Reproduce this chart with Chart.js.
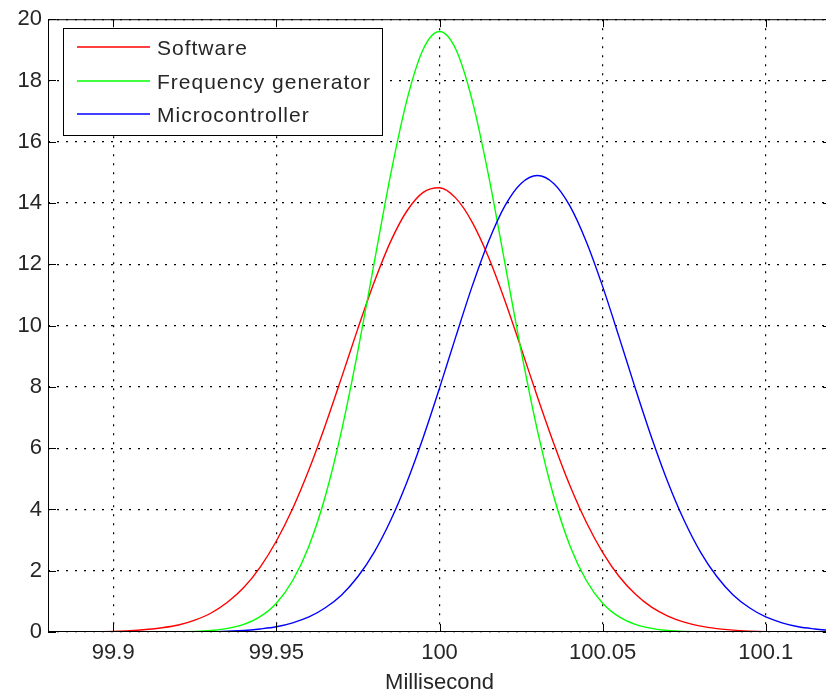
<!DOCTYPE html>
<html lang="en">
<head>
    <meta charset="UTF-8">
    <title>Millisecond distribution</title>
    <style>
        html, body {
            margin: 0;
            padding: 0;
            background: #ffffff;
            overflow: hidden;
        }
        #wrap {
            width: 832px;
            height: 696px;
        }
    </style>
</head>
<body>
    <div id="wrap">
        <canvas id="chart" width="832" height="696"></canvas>
    </div>

    <script src="https://cdn.jsdelivr.net/npm/chart.js"></script>
    <script>
        // x positions (ms)
        const xValues = [
            99.88, 99.885, 99.89, 99.895, 99.9, 99.905, 99.91, 99.915, 99.92, 99.925,
            99.93, 99.935, 99.94, 99.945, 99.95, 99.955, 99.96, 99.965, 99.97, 99.975,
            99.98, 99.985, 99.99, 99.995, 100, 100.005, 100.01, 100.015, 100.02, 100.025,
            100.03, 100.035, 100.04, 100.045, 100.05, 100.055, 100.06, 100.065, 100.07, 100.075,
            100.08, 100.085, 100.09, 100.095, 100.1, 100.105, 100.11, 100.115, 100.12
        ];

        const software = [
            0, 0, 0, 0.01, 0.02, 0.04, 0.08, 0.14, 0.23, 0.39,
            0.62, 0.97, 1.45, 2.11, 2.97, 4.03, 5.30, 6.75, 8.31, 9.91,
            11.42, 12.74, 13.74, 14.35, 14.5, 14.16, 13.38, 12.24, 10.83, 9.27,
            7.68, 6.16, 4.77, 3.58, 2.60, 1.82, 1.24, 0.81, 0.52, 0.32,
            0.19, 0.11, 0.06, 0.03, 0.01, 0, 0, 0, 0
        ];

        const freqGenerator = [
            0, 0, 0, 0, 0, 0, 0, 0, 0.01, 0.02,
            0.05, 0.12, 0.25, 0.50, 0.94, 1.68, 2.81, 4.43, 6.58, 9.18,
            12.06, 14.92, 17.36, 19.02, 19.6, 19.02, 17.36, 14.92, 12.06, 9.18,
            6.58, 4.43, 2.81, 1.68, 0.94, 0.50, 0.25, 0.12, 0.05, 0.02,
            0.01, 0, 0, 0, 0, 0, 0, 0, 0
        ];

        const microcontroller = [
            0, 0, 0, 0, 0, 0, 0, 0, 0, 0.01,
            0.01, 0.03, 0.05, 0.10, 0.17, 0.30, 0.49, 0.79, 1.21, 1.81,
            2.61, 3.64, 4.89, 6.35, 7.96, 9.64, 11.28, 12.74, 13.90, 14.64,
            14.9, 14.64, 13.90, 12.74, 11.28, 9.64, 7.96, 6.35, 4.89, 3.64,
            2.61, 1.81, 1.21, 0.79, 0.49, 0.30, 0.17, 0.10, 0.05
        ];

        const seriesLabels = ['Software', 'Frequency generator', 'Microcontroller'];
        const seriesColors = ['#ff0000', '#00ff00', '#0000ff'];
        const xTicks = [99.9, 99.95, 100, 100.05, 100.1];
        const yTicks = [0, 2, 4, 6, 8, 10, 12, 14, 16, 18, 20];
        const xTitle = 'Millisecond';

        const toPoints = arr => xValues.map((x, i) => ({ x: x, y: arr[i] }));
        const seriesData = [software, freqGenerator, microcontroller];

        const tickFont = { family: '"Liberation Sans", Arial, sans-serif', size: 22 };
        const textColor = '#262626';

        // box around the axes + inward tick marks (MATLAB style)
        const matlabAxes = {
            id: 'matlabAxes',
            afterDatasetsDraw(chart) {
                const ctx = chart.ctx;
                const a = chart.chartArea;
                const xs = chart.scales.x, ys = chart.scales.y;
                const len = 8;
                ctx.save();
                ctx.strokeStyle = '#000';
                ctx.lineWidth = 1;
                ctx.setLineDash([]);
                ctx.strokeRect(a.left + 0.5, a.top + 0.5, a.right - a.left - 1, a.bottom - a.top - 1);
                ctx.beginPath();
                xTicks.forEach(v => {
                    const px = Math.round(xs.getPixelForValue(v)) + 0.5;
                    ctx.moveTo(px, a.bottom); ctx.lineTo(px, a.bottom - len);
                    ctx.moveTo(px, a.top); ctx.lineTo(px, a.top + len);
                });
                yTicks.forEach(v => {
                    const py = Math.round(ys.getPixelForValue(v)) + 0.5;
                    ctx.moveTo(a.left, py); ctx.lineTo(a.left + len, py);
                    ctx.moveTo(a.right, py); ctx.lineTo(a.right - len, py);
                });
                ctx.stroke();
                ctx.restore();
            }
        };

        // legend box inside the plot
        const boxLegend = {
            id: 'boxLegend',
            afterDraw(chart) {
                const ctx = chart.ctx;
                ctx.save();
                ctx.setLineDash([]);
                ctx.fillStyle = '#fff';
                ctx.fillRect(63, 28, 319, 107);
                ctx.strokeStyle = '#000';
                ctx.lineWidth = 1;
                ctx.strokeRect(63.5, 28.5, 319, 107);
                const rows = [47, 81, 114];
                ctx.font = '21px "Liberation Sans", Arial, sans-serif';
                ctx.letterSpacing = '1px';
                ctx.textBaseline = 'middle';
                ctx.textAlign = 'left';
                seriesLabels.forEach((label, i) => {
                    ctx.beginPath();
                    ctx.strokeStyle = seriesColors[i];
                    ctx.lineWidth = 1.5;
                    ctx.moveTo(77, rows[i]);
                    ctx.lineTo(150, rows[i]);
                    ctx.stroke();
                    ctx.fillStyle = textColor;
                    ctx.fillText(label, 157, rows[i] + 2);
                });
                ctx.restore();
            }
        };

        new Chart(document.getElementById('chart'), {
            type: 'line',
            data: {
                datasets: seriesData.map((arr, i) => ({
                    label: seriesLabels[i],
                    data: toPoints(arr),
                    borderColor: seriesColors[i],
                    backgroundColor: seriesColors[i],
                    borderWidth: 1.4,
                    pointRadius: 0,
                    cubicInterpolationMode: 'monotone',
                    fill: false,
                    order: 2 - i
                }))
            },
            options: {
                responsive: false,
                animation: false,
                layout: { padding: { top: 16, right: 1, left: 0, bottom: 0 } },
                plugins: {
                    legend: { display: false },
                    tooltip: { enabled: false }
                },
                scales: {
                    x: {
                        type: 'linear',
                        min: 99.88,
                        max: 100.12,
                        afterBuildTicks: scale => { scale.ticks = xTicks.map(v => ({ value: v })); },
                        afterFit: scale => { scale.height = 64; },
                        ticks: {
                            autoSkip: false,
                            maxRotation: 0,
                            padding: 8,
                            color: textColor,
                            font: tickFont,
                            callback: v => String(v)
                        },
                        grid: { color: '#000', lineWidth: 1.2, drawTicks: false },
                        border: { display: false, dash: [2, 7] },
                        title: {
                            display: true,
                            text: xTitle,
                            color: textColor,
                            font: tickFont,
                            padding: { top: 0, bottom: 0 }
                        }
                    },
                    y: {
                        min: 0,
                        max: 20,
                        afterBuildTicks: scale => { scale.ticks = yTicks.map(v => ({ value: v })); },
                        afterFit: scale => { scale.width = 48; },
                        ticks: {
                            padding: 6,
                            color: textColor,
                            font: tickFont
                        },
                        grid: { color: '#000', lineWidth: 1.2, drawTicks: false },
                        border: { display: false, dash: [2, 7] }
                    }
                }
            },
            plugins: [matlabAxes, boxLegend]
        });
    </script>
</body>
</html>
